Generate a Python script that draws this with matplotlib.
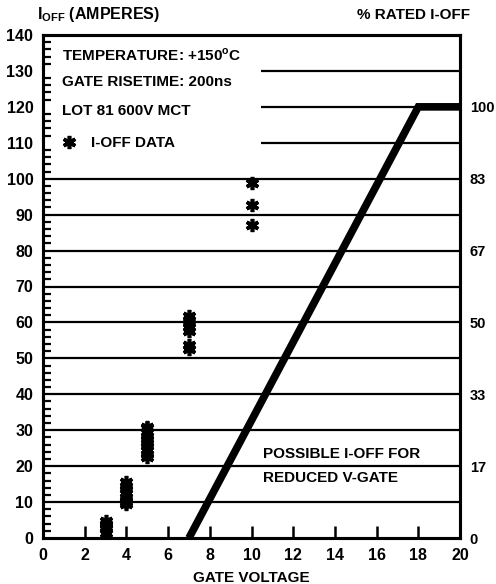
import matplotlib
matplotlib.use("Agg")
import matplotlib.pyplot as plt

plt.rcParams['font.family'] = ['Liberation Sans', 'DejaVu Sans']
plt.rcParams['font.weight'] = 'bold'
plt.rcParams['mathtext.fontset'] = 'custom'
plt.rcParams['mathtext.rm'] = 'Liberation Sans:bold'
plt.rcParams['mathtext.bf'] = 'Liberation Sans:bold'

# measured I-OFF points (gate voltage, amperes)
data_v = [3, 3, 3, 3, 3,
          4, 4, 4, 4, 4, 4, 4, 4,
          5, 5, 5, 5, 5, 5, 5, 5, 5, 5,
          7, 7, 7, 7, 7, 7, 7,
          10, 10, 10]
data_i = [1.5, 2.5, 3.2, 4.0, 4.8,
          9.5, 10.5, 11.5, 12.5, 13.5, 14.5, 15.5, 10.0,
          22.5, 23.5, 24.5, 25.5, 26.5, 27.5, 28.5, 29.5, 30.5, 31.0,
          52.5, 53.8, 57.5, 58.7, 59.8, 60.8, 61.8,
          87.0, 92.8, 98.8]

# possible I-OFF for reduced V-gate
limit_v = [7, 18, 20]
limit_i = [0, 120, 120]

full_grid = [10, 20, 30, 40, 50, 60, 70, 80, 90, 100]
part_grid = [110, 120, 130]
right_ticks = [0, 20, 40, 60, 80, 100, 120]
right_labels = ['0', '17', '33', '50', '67', '83', '100']

fig = plt.figure(figsize=(4.96, 5.84), dpi=100)
ax = fig.add_axes([43 / 496, 46 / 584, 417 / 496, 503 / 584])
ax.set_xlim(0, 20)
ax.set_ylim(0, 140)

ax.hlines(full_grid, 0, 20, color='black', lw=1.6, zorder=1)
ax.hlines(part_grid, 10.45, 20, color='black', lw=1.6, zorder=1)

ax.plot(limit_v, limit_i, color='black', lw=5.5, solid_capstyle='butt',
        solid_joinstyle='miter', zorder=3)
ax.plot(data_v, data_i, ls='none', marker=(6, 2, 0), ms=9.5, mew=2.6,
        color='black', zorder=4)

for side in ax.spines.values():
    side.set_linewidth(2.2)

ax.set_xticks(range(0, 21, 2))
ax.set_yticks(range(0, 141, 10))
ax.set_yticks(range(0, 141, 2), minor=True)
ax.tick_params(axis='x', direction='in', length=9, width=1.8, pad=7,
               labelsize=11.5)
ax.tick_params(axis='y', which='major', direction='in', length=0, pad=7,
               labelsize=11.5)
ax.tick_params(axis='y', which='minor', direction='in', length=6, width=1.6)
ax.tick_params(axis='x', which='minor', length=0)
for lab in ax.get_xticklabels() + ax.get_yticklabels():
    lab.set_fontweight('bold')

ax2 = ax.twinx()
ax2.set_ylim(0, 140)
ax2.set_yticks(right_ticks)
ax2.set_yticklabels(right_labels, fontweight='bold')
ax2.tick_params(axis='y', length=0, pad=7, labelsize=10.5)
for side in ax2.spines.values():
    side.set_linewidth(2.2)

ax.set_xlabel('GATE VOLTAGE', fontsize=11, fontweight='bold', labelpad=6)

fig.text(37 / 496, 1 - 15 / 584, r'$\mathbf{I_{OFF}}$ (AMPERES)',
         fontsize=11.5, fontweight='bold', va='center', ha='left')
fig.text(470 / 496, 1 - 15 / 584, '% RATED I-OFF', fontsize=11,
         fontweight='bold', va='center', ha='right')

ax.text(0.9, 134.4, r'TEMPERATURE: +150$^{\mathbf{o}}$C', fontsize=11,
        fontweight='bold', va='center')
ax.text(0.9, 127, 'GATE RISETIME: 200ns', fontsize=11, fontweight='bold',
        va='center')
ax.text(0.9, 118.8, 'LOT 81 600V MCT', fontsize=11, fontweight='bold',
        va='center')
ax.plot([1.25], [110.3], ls='none', marker=(6, 2, 0), ms=9.5, mew=2.6,
        color='black')
ax.text(2.3, 110, 'I-OFF DATA', fontsize=11, fontweight='bold', va='center')

ax.text(10.55, 23.5, 'POSSIBLE I-OFF FOR', fontsize=11, fontweight='bold',
        va='center', bbox=dict(fc='white', ec='none', pad=0.5), zorder=5)
ax.text(10.55, 16.8, 'REDUCED V-GATE', fontsize=11, fontweight='bold',
        va='center', bbox=dict(fc='white', ec='none', pad=0.5), zorder=5)

fig.savefig('out.png', dpi=100)
